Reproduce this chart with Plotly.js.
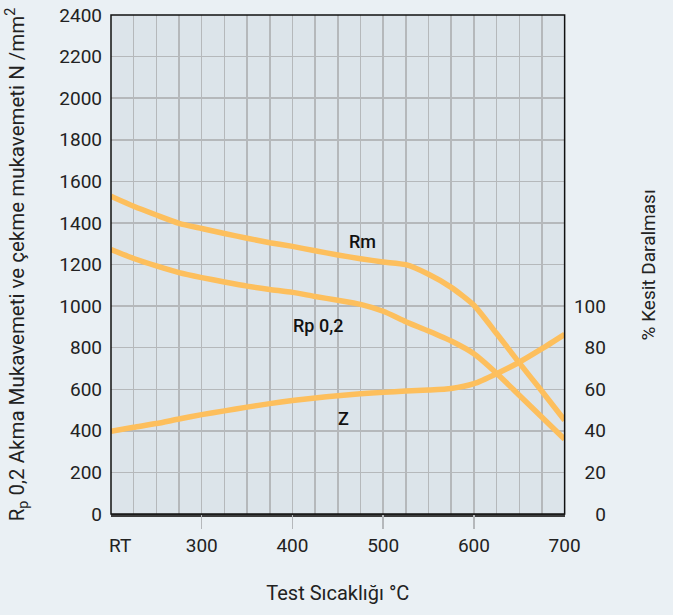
<!DOCTYPE html>
<html>
<head>
<meta charset="utf-8">
<script src="https://cdn.plot.ly/plotly-3.0.1.min.js"></script>
<style>html,body{margin:0;padding:0;background:#eaf0f4;}</style>
</head>
<body>
<div id="chart" style="width:673px;height:615px;"></div>
<script>
// Temperatures (°C), strength curves (N/mm²), reduction of area (%)
const temps = [200, 225, 250, 275, 300, 325, 350, 375, 400, 425, 450, 475, 500, 525, 550, 575, 600, 625, 650, 675, 700];
const rm    = [1528, 1480, 1438, 1398, 1373, 1349, 1326, 1305, 1287, 1266, 1246, 1228, 1212, 1199, 1153, 1090, 1004, 868, 727, 590, 451];
const rp02  = [1272, 1229, 1193, 1161, 1137, 1116, 1096, 1080, 1066, 1046, 1028, 1008, 975, 925, 880, 832, 771, 677, 571, 465, 360];
const zVals = [39.8, 41.7, 43.5, 45.7, 47.8, 49.6, 51.4, 53.1, 54.6, 55.8, 56.9, 57.8, 58.5, 59.1, 59.6, 60.4, 62.7, 67.5, 73.0, 79.5, 86.4];

const xTickVals = [210, 300, 400, 500, 600, 700];
const xTickText = ['RT', '300', '400', '500', '600', '700'];
const xMarkVals = [300, 400, 500, 600];
const rightTickVals = [0, 20, 40, 60, 80, 100];

const lineColor = '#fdbf5d';
const font = 'Roboto, "Open Sans", sans-serif';
const txt = '#222';
const lineStyle = {color: lineColor, width: 5.5, shape: 'spline', smoothing: 0.6};

const traces = [
  {x: temps, y: rm, type: 'scatter', mode: 'lines', line: lineStyle, hoverinfo: 'skip'},
  {x: temps, y: rp02, type: 'scatter', mode: 'lines', line: lineStyle, hoverinfo: 'skip'},
  {x: temps, y: zVals, yaxis: 'y2', type: 'scatter', mode: 'lines', line: lineStyle, hoverinfo: 'skip'},
  // empty helper traces so the tick-mark and grid axes are drawn
  {x: [], y: [], xaxis: 'x2', type: 'scatter', mode: 'lines', hoverinfo: 'skip'},
  {x: [], y: [], xaxis: 'x3', type: 'scatter', mode: 'lines', hoverinfo: 'skip'}
];

const dom = [0, 0.8218];
const layout = {
  width: 673, height: 615,
  margin: {l: 111, r: 10, t: 15, b: 101},
  paper_bgcolor: '#eaf0f4',
  plot_bgcolor: '#dce4ea',
  showlegend: false,
  font: {family: font, color: txt, size: 19},
  xaxis: {
    domain: dom, range: [200, 700], tickmode: 'array', tickvals: xTickVals, ticktext: xTickText,
    showgrid: false, zeroline: false, ticks: '', ticklabelstandoff: 13,
    showline: true, linecolor: '#3c3c3c', linewidth: 2.5,
    tickfont: {size: 19, color: txt},
    title: {text: 'Test Sıcaklığı °C', font: {size: 20, color: txt}, standoff: 30}
  },
  xaxis2: {
    domain: dom, range: [200, 700], overlaying: 'x', anchor: 'y', side: 'bottom',
    tickmode: 'array', tickvals: xMarkVals, ticks: 'outside', ticklen: 14, tickwidth: 1.5, tickcolor: '#b5b8bb',
    showticklabels: false, showgrid: false, zeroline: false, showline: false
  },
  xaxis3: {
    domain: dom, range: [200, 700], overlaying: 'x', anchor: 'y', side: 'bottom',
    tickmode: 'linear', tick0: 200, dtick: 25, ticks: '', showticklabels: false,
    showgrid: true, gridcolor: '#b5b8bb', gridwidth: 1.5, zeroline: false, showline: false
  },
  yaxis: {
    range: [0, 2400], dtick: 200, tick0: 0, showgrid: true, gridcolor: '#b5b8bb', gridwidth: 1.5,
    zeroline: false, ticks: '', ticklabelstandoff: 8, tickfont: {size: 19, color: txt},
    showline: false,
    title: {text: 'R<sub>p</sub> 0,2 Akma Mukavemeti ve çekme mukavemeti N /mm<sup>2</sup>', font: {size: 20.5, color: txt}, standoff: 29}
  },
  yaxis2: {
    range: [0, 240], overlaying: 'y', anchor: 'free', side: 'left', position: 0.8967,
    tickmode: 'array', tickvals: rightTickVals, showgrid: false, zeroline: false, ticks: '', showline: false,
    tickfont: {size: 19, color: txt}
  },
  shapes: [
    {type: 'rect', xref: 'x domain', yref: 'y domain', x0: 0, x1: 1, y0: 0, y1: 1, line: {color: '#111', width: 1.5}, layer: 'above'}
  ],
  annotations: [
    {x: 477, y: 1312, xref: 'x', yref: 'y', text: 'Rm', showarrow: false, font: {size: 18, color: '#111', weight: 500}},
    {x: 428.5, y: 908, xref: 'x', yref: 'y', text: 'Rp 0,2', showarrow: false, font: {size: 18, color: '#111', weight: 500}},
    {x: 456, y: 460, xref: 'x', yref: 'y', text: 'Z', showarrow: false, font: {size: 18, color: '#111', weight: 500}},
    {x: 0.9746, y: 0.5, xref: 'paper', yref: 'paper', xanchor: 'center', yanchor: 'middle', text: '% Kesit Daralması', textangle: -90, showarrow: false, font: {size: 19, color: txt}}
  ]
};

Plotly.newPlot('chart', traces, layout, {displayModeBar: false, staticPlot: true});
</script>
</body>
</html>
